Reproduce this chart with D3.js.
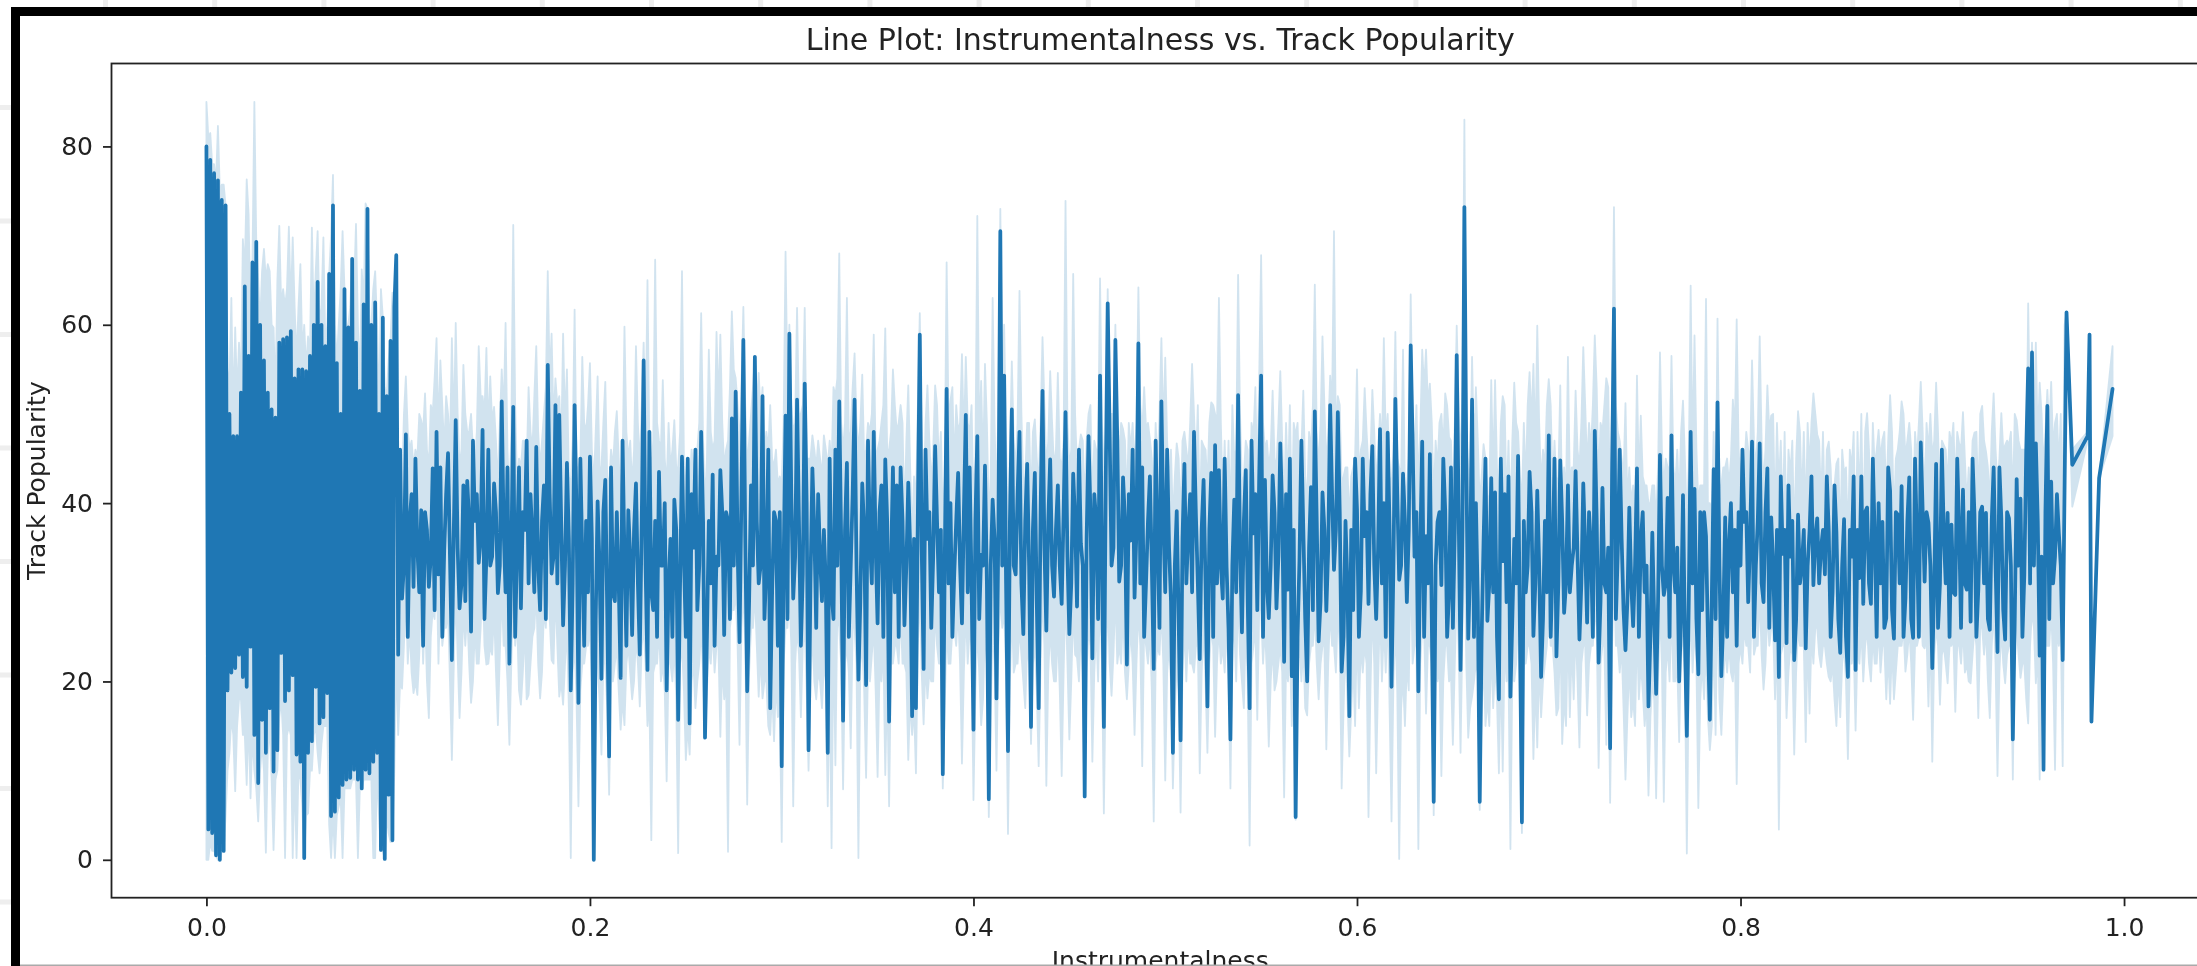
<!DOCTYPE html>
<html lang="en">
<head>
    <meta charset="utf-8" />
    <title>Line Plot: Instrumentalness vs. Track Popularity</title>
    <script src="https://d3js.org/d3.v7.min.js"></script>
    <style>
        html, body { margin: 0; padding: 0; background: #fff; overflow: hidden; }
        svg { display: block; filter: blur(0.55px); }
        text { font-family: "DejaVu Sans", sans-serif; fill: #222; }
    </style>
</head>
<body>
<script>
    // x values (dense part first, then the sparser part, then the tail)
    var instrumentalness = [
        0.000,0.001,0.002,0.003,0.004,0.005,0.006,0.007,0.008,0.009,
        0.010,0.011,0.012,0.013,0.014,0.015,0.016,0.017,0.018,0.019,
        0.020,0.021,0.022,0.023,0.024,0.025,0.026,0.027,0.028,0.029,
        0.030,0.031,0.032,0.033,0.034,0.035,0.036,0.037,0.038,0.039,
        0.040,0.041,0.042,0.043,0.044,0.045,0.046,0.047,0.048,0.049,
        0.050,0.051,0.052,0.053,0.054,0.055,0.056,0.057,0.058,0.059,
        0.060,0.061,0.062,0.063,0.064,0.065,0.066,0.067,0.068,0.069,
        0.070,0.071,0.072,0.073,0.074,0.075,0.076,0.077,0.078,0.079,
        0.080,0.081,0.082,0.083,0.084,0.085,0.086,0.087,0.088,0.089,
        0.090,0.091,0.092,0.093,0.094,0.095,0.096,0.097,0.098,0.099,
        0.100,0.102,0.104,0.106,0.108,0.110,0.112,0.114,0.116,0.118,
        0.120,0.122,0.124,0.126,0.128,0.130,0.132,0.134,0.136,0.138,
        0.140,0.142,0.144,0.146,0.148,0.150,0.152,0.154,0.156,0.158,
        0.160,0.162,0.164,0.166,0.168,0.170,0.172,0.174,0.176,0.178,
        0.180,0.182,0.184,0.186,0.188,0.190,0.192,0.194,0.196,0.198,
        0.200,0.202,0.204,0.206,0.208,0.210,0.212,0.214,0.216,0.218,
        0.220,0.222,0.224,0.226,0.228,0.230,0.232,0.234,0.236,0.238,
        0.240,0.242,0.244,0.246,0.248,0.250,0.252,0.254,0.256,0.258,
        0.260,0.262,0.264,0.266,0.268,0.270,0.272,0.274,0.276,0.278,
        0.280,0.282,0.284,0.286,0.288,0.290,0.292,0.294,0.296,0.298,
        0.300,0.302,0.304,0.306,0.308,0.310,0.312,0.314,0.316,0.318,
        0.320,0.322,0.324,0.326,0.328,0.330,0.332,0.334,0.336,0.338,
        0.340,0.342,0.344,0.346,0.348,0.350,0.352,0.354,0.356,0.358,
        0.360,0.362,0.364,0.366,0.368,0.370,0.372,0.374,0.376,0.378,
        0.380,0.382,0.384,0.386,0.388,0.390,0.392,0.394,0.396,0.398,
        0.400,0.402,0.404,0.406,0.408,0.410,0.412,0.414,0.416,0.418,
        0.420,0.422,0.424,0.426,0.428,0.430,0.432,0.434,0.436,0.438,
        0.440,0.442,0.444,0.446,0.448,0.450,0.452,0.454,0.456,0.458,
        0.460,0.462,0.464,0.466,0.468,0.470,0.472,0.474,0.476,0.478,
        0.480,0.482,0.484,0.486,0.488,0.490,0.492,0.494,0.496,0.498,
        0.500,0.502,0.504,0.506,0.508,0.510,0.512,0.514,0.516,0.518,
        0.520,0.522,0.524,0.526,0.528,0.530,0.532,0.534,0.536,0.538,
        0.540,0.542,0.544,0.546,0.548,0.550,0.552,0.554,0.556,0.558,
        0.560,0.562,0.564,0.566,0.568,0.570,0.572,0.574,0.576,0.578,
        0.580,0.582,0.584,0.586,0.588,0.590,0.592,0.594,0.596,0.598,
        0.600,0.602,0.604,0.606,0.608,0.610,0.612,0.614,0.616,0.618,
        0.620,0.622,0.624,0.626,0.628,0.630,0.632,0.634,0.636,0.638,
        0.640,0.642,0.644,0.646,0.648,0.650,0.652,0.654,0.656,0.658,
        0.660,0.662,0.664,0.666,0.668,0.670,0.672,0.674,0.676,0.678,
        0.680,0.682,0.684,0.686,0.688,0.690,0.692,0.694,0.696,0.698,
        0.700,0.702,0.704,0.706,0.708,0.710,0.712,0.714,0.716,0.718,
        0.720,0.722,0.724,0.726,0.728,0.730,0.732,0.734,0.736,0.738,
        0.740,0.742,0.744,0.746,0.748,0.750,0.752,0.754,0.756,0.758,
        0.760,0.762,0.764,0.766,0.768,0.770,0.772,0.774,0.776,0.778,
        0.780,0.782,0.784,0.786,0.788,0.790,0.792,0.794,0.796,0.798,
        0.800,0.802,0.804,0.806,0.808,0.810,0.812,0.814,0.816,0.818,
        0.820,0.822,0.824,0.826,0.828,0.830,0.832,0.834,0.836,0.838,
        0.840,0.842,0.844,0.846,0.848,0.850,0.852,0.854,0.856,0.858,
        0.860,0.862,0.864,0.866,0.868,0.870,0.872,0.874,0.876,0.878,
        0.880,0.882,0.884,0.886,0.888,0.890,0.892,0.894,0.896,0.898,
        0.900,0.902,0.904,0.906,0.908,0.910,0.912,0.914,0.916,0.918,
        0.920,0.922,0.924,0.926,0.928,0.930,0.932,0.934,0.936,0.938,
        0.940,0.942,0.944,0.946,0.948,0.950,0.952,0.954,0.956,0.958,
        0.960,0.962,0.964,0.966,0.968,0.970,
        0.973,0.981,0.982,0.983,0.987,0.994
    ];

    // mean popularity at each x
    var trackPopularity = [
        80,3.4,78.5,3,77,.5,76.2,0,74,1,
        73.4,19,50,21,47.5,21.5,47.5,23,52.4,20.5,
        64.3,19.4,56.5,23.9,67,14,69.3,8.6,60,15.7,
        56,12,52.4,17,50.5,9.9,49.6,12.3,58,23.2,
        58.4,17.8,58.6,19,59.3,20.7,54,11.8,55,11,
        55,.2,54.8,12,56.5,13.3,60,19.4,64.8,15.3,
        60,16,57.6,18.7,65.7,4.9,73.4,5.4,55.7,7,
        50,8.4,64,9,59.7,9.2,67.4,10.1,58,9,
        52.6,8,62.3,10.1,73,9.7,60,11,62.5,12,
        50,1.1,60.8,.1,52,7.3,58.2,2.2,62,67.8,
        23,29.3,47.7,38,30.6,35,39.2,39,30.6,43.9,
        48,44,34.7,45.6,22.4,49.3,28.2,42,42.5,25.6,
        38,33.3,48.2,34,33,42.2,29.9,51.4,30,22,
        50.8,35,28.2,37,31,36,46.3,28,42,55.5,
        32.1,51,49.9,26.3,44.5,19,51,17.6,34,38,
        45.2,0,40.2,20.3,42.6,11.6,30,39,20.4,34,
        39.2,25.2,42.2,23,56,21.3,30,38,43.5,33,
        19,36,40.4,15.7,45.2,25,15.3,35,28,48,
        13.7,38,43.2,34,43.7,25.2,38,49.5,52.5,24.4,
        58.3,18.9,42,56.4,31,52,33,17,39,24,
        10.5,49.8,59,29.3,51.6,24,53.4,12.3,43.9,26,
        34,37,12,30,46,51.4,15.6,44.5,33,51.6,
        20.2,42.2,19.6,36,48,26.5,42,44.9,15.5,44,
        42,44,26.3,42.3,16.1,17,58.9,21.4,36,26,
        46.4,30,9.6,52.8,40,32.2,43.4,26.5,49.9,44,
        14.6,47.5,34.2,44.2,6.8,40.4,18.1,70.5,54.3,12.2,
        50.5,32,48,25.3,44.4,14.9,43.4,17,52.6,25.7,
        44.9,29.5,42,28.7,50.2,25.3,43.3,28.4,35.5,7.1,
        47.5,22.6,38,54.3,14.9,62.4,33,58.3,31.2,42.9,
        21.9,35.8,29.4,57.9,44,31.2,43,21.4,36,51.4,
        30,35,12,39.1,13.4,44.4,36.6,30,38.6,22.5,
        42.6,17.2,43.4,46.5,43.7,29.3,32.8,13.5,40.4,52.1,
        25.5,43.7,17,36.6,28,54.3,42.6,27.1,43.1,28.2,
        46.7,22.2,30.3,20.6,4.8,33.6,37.1,20,41.8,50.3,
        24.5,41.2,27.9,51,32.5,50.2,21.1,38,16.1,28,
        39.3,30.1,36.3,28.7,46.4,27,48.3,40,47.9,19.4,
        51.7,31.4,43.3,28.9,57.7,34,18.9,46.9,36.3,45.5,
        6.5,37.9,30.8,39.2,30,26,56.6,21.3,73.2,24.8,
        51.6,40,6.5,35.7,26.8,42.8,41.2,18,33.5,28.9,
        18.3,36,45.3,4.2,30,43.5,25.1,41.4,20.5,38,
        47.6,33,22.8,44.8,27.7,42,33,43.6,24.7,42.2,
        26.6,35,48.1,22.1,41.7,30,12.5,61.8,34.6,36,
        23.5,39.5,26.2,43.9,35.8,30,17.2,36.7,18.6,45.4,
        29.7,40.6,47.6,30,20,40.9,13.9,48,41.6,20.8,
        28,36.3,15.7,43.8,51.3,20.6,38.4,35.2,30,24,
        33,37.9,28.9,46.9,33,46.7,28.9,43.9,38.4,24.6,
        20.5,34.3,24.3,34,22.4,38.7,33,23.7,36.9,30.8,
        38.3,35,32,36.9,30,36.8,23.2,38.2,20.5,34,
        21.3,31.6,28.7,39.5,28.7,36,40,37.9,27.1,41.4,
        24.8,38.7,41.9,29.3,42.9,24.9,35.9,46.8,31.2,37.8,
        21.5,44.4,31,36.6,38.9,37.6,29.7,37.2,41.5,30.3,
        26.7,38.7,30.3,39.6,38.9,25.8,44,23.3,38.3,24.7,
        38.3,13.5,42.7,40.5,32,55.1,56.9,46.7,22.9,10.1,
        50.9,42.4,34,36.6,22.4,61.4,
        44.3,47.5,58.9,15.5,42.8,52.8
    ];

    // lower edge of the confidence band
    var ciLower = [
        0,0,2,1,1,.5,0,0,1,1,
        5,10,12,16,14,7.7,15,18,18,14,
        14,8.4,16,6.9,14,10,8,4.3,10,13,
        10,.8,12,15,9,1.1,9,10,16,18,
        14,.2,14,15,14,.2,10,.2,10,9,
        6,.2,5,5.2,10,10,14,15,12,9.7,
        13,15,15,15,4,.2,5,.2,5,6,
        7,.2,8,8,8,8,9,9,9,.2,
        8,8,9,9,9,9,9,.2,.2,10,
        5,1,1,.1,5,3,2,2,10,23,
        14,19.2,30,26,18.7,18.5,30,28,15.9,28,
        34,30,26,28,11.2,30,15.9,28,28,17.6,
        26,22,32,21.9,24,28,15.1,30,24,12.9,
        30,27,17.4,26,18.5,25,30,18.1,28,32,
        22.4,30,18.3,17.4,26,.2,24,6,22,24,
        26,0,22,11.8,22,7.3,20,24,14.6,15.1,
        24,18,25,17.2,26,15,2.2,22,26,22,
        8.8,22,24,.75,24,11.2,11.8,22,20,26,
        13.7,24,26,24,13.8,18,.9,28,30,12.9,
        30,6.2,26,30,18.3,18.1,20,14,13.3,16,
        2,26,30,6,26,16,26,10,26,18,
        20,22,6,1.3,10.6,26,7.9,24,12.5,26,
        .2,24,9.2,20,26,9.3,20,9.5,6,22,
        24,28,22,11.2,14,9.7,30,15.2,18.1,20,
        28,22,8,26,22,26,28,10.8,28,26,
        6.7,26,15.1,26,4.8,26,10,30,28,2.9,
        28,22,26,20,24,13,24,10.5,30,8.3,
        26,20,26,9.4,30,13.5,28,22.7,26,7,
        26,11,26,30,5.2,30,18.4,30,24,28,
        18,26,14,28,10.5,24,26,4.3,24,28,
        8.9,24,8,22,5.3,26,26,22,24,9.7,
        26,12,26,13.8,26,24,26,8,26,30,
        20,26,1.6,24,15.7,28,26,12.7,24,20,
        24,7,20,15,4.5,24,24,16.2,24,28,
        18,24,12.4,28,24,28,8,24,11.6,22,
        26,24,24,4.8,28,9.7,28,26,28,4.3,
        26,.1,20.5,22,34,24,1.2,26,16.4,24,
        5,20,9.4,24,20,12.9,30,12,36,13.7,
        18.3,22,5.6,22,18,24,22,9.7,9.9,20,
        1.2,20,28,3,22,24,11.3,12.6,16,22,
        28,24,16.2,26,18,26,24,26,12.6,24,
        16.2,24,28,10.3,24,12.9,6.4,32,24,24,
        9,22,18,26,22,15,7.2,20,6.9,28,
        6.5,24,28,20,13.2,24,.7,28,26,5.8,
        22,24,12.3,26,30,14,24,24,20,8.5,
        24,26,24,30,24,30,19.1,28,26,18,
        3.4,24,15.9,24,11.8,26,24,13.2,16.4,22,
        26,21.6,24,20.5,22,15,16,24,11.3,22,
        14.5,22,20,26,20,22,26,24,18,17.5,
        18,24,24,21.1,26,15.7,24,28,23.7,17.2,
        11,26,17.4,24,19.8,24,16.6,24,26,22,
        19.8,26,15.9,26,26,15.9,28,9.4,26,19.8,
        24,9,26,20.4,22,15.3,28,19.8,9,10,
        24,28,10.1,24,10.5,61.4,
        39.6,47,58.9,15.5,42.8,47.5
    ];

    // upper edge of the confidence band
    var ciUpper = [
        85,81,81.5,78,78,76,82.3,75,75.7,75.7,
        73.4,55,53,63,50,59.7,52,58,53,69.6,
        66,76.3,72.4,60,67,85,69.3,65,60,66,
        68.5,65,66.8,66,60,59.7,52,65,71.1,62,
        64,62,64,71,62,69.8,62,56,62,66.8,
        57,60,55,58.7,57,70.9,60,66,70.5,60,
        62,69.8,58,60,65.7,70,76.8,60,56,60,
        64,70.5,64,60,60,62,67.4,64,71.3,60,
        53,66.2,62.3,73.6,73,60,60,64,66,60,
        50,64,60.8,53,52,56,58.2,63.6,62,67.8,
        36,42,54.2,46,44,45,49.3,52.3,44,50,
        58.5,56,46,50,58.5,60.2,44,55.5,48,50,
        44,57.6,52,57.4,54.2,50.8,42,55,60.2,40,
        71.2,42,44,47,53,46,57.6,44,50,66,
        59,54,52,59,55,42,61.7,44,56.4,48,
        55.7,42,54.2,44,53.6,42,44,50.3,40,59.8,
        45,42,57.6,44,58,65,44,67.3,47,53.8,
        42,44,49.3,44,66,42,42,44,46,61.3,
        40,57.2,46,59.2,58.9,44,47,61.5,54,46,
        62,44,50,56.4,54.6,53,48,51,44,42,
        42,68.2,60,48,61.9,50,61.9,45,47.6,44,
        45,47.6,44,44,52,68,46,63,48,56.8,
        46,54.4,46,48,58.9,46,49,59.6,46,55,
        48,51,38,53.2,36,40,61.3,40,53.2,42,
        53.2,44,38,67,51.5,44,48,56.7,56.4,48,
        40,72.2,53.7,55.6,38,63,40,73,60,36,
        55.9,44,63.8,42,49,40,49.4,42,58.6,44,
        54.8,44,54.6,44,73.9,44,65.7,44,47.7,40,
        50,40,46,65.2,44,64,50,60,46,48.3,
        40,46,44,64.2,48,48.3,47.2,40,44,58.5,
        56.3,42,38,46.7,38,48,44,55.6,44,38,
        46.4,42,51.3,50,63,40,39,38,45,65.6,
        42,47,38,47.5,42,67.8,46,44,52.6,44,
        54.8,40,42,38,47.5,42,52.6,40,46,64.5,
        44,58.7,44,54.3,70.5,52,42,44,38,44,
        55,46,52.9,44,52.7,42,50,58.5,50,42,
        59.2,44,57.2,42,63.4,46,42,57.2,57.2,53.4,
        40,44,50,52.3,47.4,40,59.9,44,83,44,
        56.4,53,40,46.6,40,53.8,53.8,40,52,39.8,
        38,53.5,48,40,42,54.7,55.6,59.9,42,44,
        53.9,42,42,53.2,44,56.4,44,52.6,44,57.5,
        44,46,58.8,42,48,54,38,73.2,48,45,
        51.2,44,42,54.3,49.8,42,40,42,38,56.9,
        42,44,56.5,42,40,51.5,38,64.4,58.8,40,
        42,62.9,40,48,60.7,42,44,42,51.6,60.6,
        42,44,46,56,44,58.7,42,53.2,49.8,38,
        42,38,36,43.3,36,50.3,40,38,44,52.3,
        47.7,40,38,46.9,38,44.4,36,43.4,36,43.9,
        34,40.3,36,50.1,38,44,48.2,47.1,40,52.1,
        38,46,51.4,45.2,49,38,44.9,53.6,40,45.8,
        45.2,53.5,40,46.5,42,46.5,41.9,46.7,50.2,40,
        40,47.9,40,50.9,45.8,40,52.3,42,50.1,46.5,
        46.5,40,49.3,46,46,62.4,58,58,53.5,44,
        52.7,53.6,49,44.1,38,61.4,
        46,48,58.9,15.5,42.8,57.6
    ];

    // in-between x values of the sparser part, where the line sits inside the dark body
    var bodyInstrumentalness = [
        0.101,0.103,0.105,0.107,0.109,0.111,0.113,0.115,0.117,0.119,
        0.121,0.123,0.125,0.127,0.129,0.131,0.133,0.135,0.137,0.139,
        0.141,0.143,0.145,0.147,0.149,0.151,0.153,0.155,0.157,0.159,
        0.161,0.163,0.165,0.167,0.169,0.171,0.173,0.175,0.177,0.179,
        0.181,0.183,0.185,0.187,0.189,0.191,0.193,0.195,0.197,0.199,
        0.201,0.203,0.205,0.207,0.209,0.211,0.213,0.215,0.217,0.219,
        0.221,0.223,0.225,0.227,0.229,0.231,0.233,0.235,0.237,0.239,
        0.241,0.243,0.245,0.247,0.249,0.251,0.253,0.255,0.257,0.259,
        0.261,0.263,0.265,0.267,0.269,0.271,0.273,0.275,0.277,0.279,
        0.281,0.283,0.285,0.287,0.289,0.291,0.293,0.295,0.297,0.299,
        0.301,0.303,0.305,0.307,0.309,0.311,0.313,0.315,0.317,0.319,
        0.321,0.323,0.325,0.327,0.329,0.331,0.333,0.335,0.337,0.339,
        0.341,0.343,0.345,0.347,0.349,0.351,0.353,0.355,0.357,0.359,
        0.361,0.363,0.365,0.367,0.369,0.371,0.373,0.375,0.377,0.379,
        0.381,0.383,0.385,0.387,0.389,0.391,0.393,0.395,0.397,0.399,
        0.401,0.403,0.405,0.407,0.409,0.411,0.413,0.415,0.417,0.419,
        0.421,0.423,0.425,0.427,0.429,0.431,0.433,0.435,0.437,0.439,
        0.441,0.443,0.445,0.447,0.449,0.451,0.453,0.455,0.457,0.459,
        0.461,0.463,0.465,0.467,0.469,0.471,0.473,0.475,0.477,0.479,
        0.481,0.483,0.485,0.487,0.489,0.491,0.493,0.495,0.497,0.499,
        0.501,0.503,0.505,0.507,0.509,0.511,0.513,0.515,0.517,0.519,
        0.521,0.523,0.525,0.527,0.529,0.531,0.533,0.535,0.537,0.539,
        0.541,0.543,0.545,0.547,0.549,0.551,0.553,0.555,0.557,0.559,
        0.561,0.563,0.565,0.567,0.569,0.571,0.573,0.575,0.577,0.579,
        0.581,0.583,0.585,0.587,0.589,0.591,0.593,0.595,0.597,0.599,
        0.601,0.603,0.605,0.607,0.609,0.611,0.613,0.615,0.617,0.619,
        0.621,0.623,0.625,0.627,0.629,0.631,0.633,0.635,0.637,0.639,
        0.641,0.643,0.645,0.647,0.649,0.651,0.653,0.655,0.657,0.659,
        0.661,0.663,0.665,0.667,0.669,0.671,0.673,0.675,0.677,0.679,
        0.681,0.683,0.685,0.687,0.689,0.691,0.693,0.695,0.697,0.699,
        0.701,0.703,0.705,0.707,0.709,0.711,0.713,0.715,0.717,0.719,
        0.721,0.723,0.725,0.727,0.729,0.731,0.733,0.735,0.737,0.739,
        0.741,0.743,0.745,0.747,0.749,0.751,0.753,0.755,0.757,0.759,
        0.761,0.763,0.765,0.767,0.769,0.771,0.773,0.775,0.777,0.779,
        0.781,0.783,0.785,0.787,0.789,0.791,0.793,0.795,0.797,0.799,
        0.801,0.803,0.805,0.807,0.809,0.811,0.813,0.815,0.817,0.819,
        0.821,0.823,0.825,0.827,0.829,0.831,0.833,0.835,0.837,0.839,
        0.841,0.843,0.845,0.847,0.849,0.851,0.853,0.855,0.857,0.859,
        0.861,0.863,0.865,0.867,0.869,0.871,0.873,0.875,0.877,0.879,
        0.881,0.883,0.885,0.887,0.889,0.891,0.893,0.895,0.897,0.899,
        0.901,0.903,0.905,0.907,0.909,0.911,0.913,0.915,0.917,0.919,
        0.921,0.923,0.925,0.927,0.929,0.931,0.933,0.935,0.937,0.939,
        0.941,0.943,0.945,0.947,0.949,0.951,0.953,0.955,0.957,0.959,
        0.961,0.963,0.965,0.967,0.969
    ];

    var bodyPopularity = [
        46,33,25,41,45,30,24,37,34,28,
        32,25,41,34,37,35,31,29,38,47,
        41,36,27,46,34,39,33,37,44,34,
        25,44,39,47,41,30,33,38,27,41,
        34,31,38,33,36,31,39,45,24,30,
        36,27,33,39,28,44,29,31,47,24,
        34,37,31,38,33,48,28,25,33,40,
        31,25,37,31,34,45,41,46,33,38,
        25,31,24,33,39,39,27,33,35,41,
        36,29,33,38,33,27,46,30,38,39,
        33,27,41,34,38,32,40,31,37,41,
        29,31,45,27,33,36,37,25,41,33,
        29,37,47,31,35,39,25,38,33,30,
        25,38,33,35,36,39,35,46,39,34,
        38,37,33,31,25,38,33,39,30,31,
        38,27,33,31,33,36,37,33,31,38,
        33,41,31,38,33,37,29,39,35,38,
        33,37,33,39,34,31,38,46,33,36,
        39,41,27,34,43,48,35,47,33,38,
        41,46,37,31,25,38,33,47,26,38,
        46,29,33,27,36,31,41,48,31,37,
        31,37,25,31,33,45,26,33,30,35,
        38,29,47,41,43,25,31,33,39,34,
        39,41,45,37,25,47,27,35,28,38,
        29,37,35,41,37,39,25,31,37,45,
        25,45,39,41,33,35,31,25,37,33,
        41,33,38,37,47,39,35,25,31,27,
        33,39,45,25,44,37,39,37,45,33,
        25,29,25,45,31,30,25,45,41,43,
        27,31,25,38,33,39,31,33,27,30,
        25,45,31,38,31,30,35,34,31,35,
        39,25,38,29,31,35,43,27,46,28,
        29,31,33,25,39,33,25,27,29,33,
        31,25,33,35,27,25,29,31,27,39,
        39,25,29,27,33,27,25,40,37,39,
        46,39,36,25,38,31,39,26,33,37,
        43,37,42,38,27,31,37,33,43,36,
        31,37,43,25,42,27,33,25,37,43,
        37,43,39,31,45,25,31,26,44,28,
        39,31,25,38,27,45,25,39,39,33,
        31,26,46,31,25,30,45,26,31,39,
        45,25,39,31,27,38,33,44,28,39,
        33,27,33,25,46,31,33,38,34,39,
        27,31,41,33,42
    ];

    var bodyLower = [
        20,24,22,21,20,23,22,20,25,27,
        22,24,26,20,22,23,21,24,22,20,
        22,26,24,22,23,21,23,24,20,22,
        24,19,21,18,22,26,22,21,26,27,
        22,24,20,22,17,21,18,19,22,24,
        20,22,18,22,17,20,22,19,18,22,
        21,20,22,24,22,18,21,22,20,19,
        22,20,18,22,19,15,20,17,22,21,
        19,22,21,24,22,20,26,28,24,26,
        24,21,26,24,23,20,15,19,20,17,
        22,26,24,22,23,24,19,19,20,21,
        17,20,21,26,28,22,22,21,26,22,
        22,19,22,23,19,21,24,20,22,24,
        22,22,21,18,17,24,21,22,21,20,
        24,22,17,22,26,24,22,21,22,24,
        19,21,18,22,17,22,24,26,21,20,
        21,22,23,17,22,22,19,22,24,21,
        22,20,19,21,22,20,23,20,21,21,
        24,21,20,22,21,22,23,22,22,21,
        22,22,22,24,26,22,19,22,23,22,
        21,20,17,19,21,20,22,21,24,21,
        20,22,24,22,22,21,21,24,20,23,
        17,20,22,26,28,22,21,20,19,22,
        21,22,24,22,22,20,17,22,24,22,
        22,24,22,24,21,24,17,18,17,15,
        17,21,22,19,22,20,20,21,17,20,
        19,17,15,19,22,24,22,26,24,22,
        21,22,20,24,21,22,24,26,22,17,
        20,21,17,15,15,17,18,22,24,21,
        21,22,17,22,24,22,20,22,20,24,
        24,21,17,13,15,16,18,20,22,24,
        22,24,26,22,24,26,24,24,21,17,
        16,16,15,18,19,18,16,18,20,22,
        21,20,20,22,24,21,20,21,22,18,
        18,16,15,14,18,20,21,21,24,22,
        22,24,21,23,24,23,22,24,26,25,
        23,24,21,23,21,24,24,25,25,26,
        23,24,22,20,18,21,22,20,22,24,
        24,26,24,22,25,22,21,24,23,24,
        21,24,26,23,22,24,25,24,25,26,
        23,24,23,22,24,25,24,22,21,20,
        23,24,26,23,20,24,22,21,22,23,
        24,26,23,22,18,24,26,23,26,24,
        24,22,26,26,40
    ];

    var bodyUpper = [
        46,50,48,47,46,50,48,46,51,54,
        48,51,52,46,48,50,46,50,48,46,
        48,52,50,48,49,47,49,50,46,48,
        51,45,47,44,48,52,48,47,53,54,
        49,51,46,49,43,47,44,45,49,51,
        46,48,44,49,43,46,48,45,44,48,
        47,46,49,51,48,46,47,49,46,45,
        49,46,44,48,45,41,46,43,49,47,
        45,48,47,51,49,46,53,55,51,53,
        51,47,53,51,50,46,46,45,46,43,
        49,53,51,49,50,51,45,45,46,47,
        43,46,47,53,54,49,49,47,53,49,
        49,45,49,50,45,47,51,46,48,51,
        49,49,47,44,43,51,47,49,47,46,
        51,48,43,49,53,51,49,47,49,51,
        45,47,44,49,43,49,51,53,47,46,
        47,49,50,43,49,48,45,49,51,47,
        49,46,45,47,49,46,50,46,47,47,
        51,47,46,49,47,50,50,48,49,47,
        49,49,49,51,53,49,45,49,50,48,
        47,46,43,45,47,46,49,50,51,47,
        46,49,51,49,49,47,47,51,46,50,
        43,46,49,53,54,49,47,46,45,49,
        47,49,51,49,49,46,43,48,51,48,
        49,51,48,51,47,51,43,44,43,45,
        43,47,48,45,48,46,46,47,43,46,
        45,43,41,45,49,51,48,53,51,49,
        47,49,46,51,47,49,51,53,48,43,
        46,47,43,45,41,43,44,49,51,47,
        47,49,43,49,51,49,46,49,46,51,
        51,47,43,39,41,42,44,46,49,51,
        49,51,53,49,51,53,51,51,47,43,
        40,40,39,42,43,42,40,42,44,46,
        45,44,44,46,48,45,44,45,46,42,
        42,40,39,38,42,44,45,45,48,46,
        46,48,45,47,48,47,46,48,50,49,
        47,48,46,47,45,48,48,49,49,50,
        47,48,46,44,42,45,46,44,46,48,
        48,50,48,46,49,46,45,48,47,48,
        45,48,50,47,46,48,49,48,49,50,
        47,48,47,46,48,49,48,46,45,44,
        47,48,50,47,44,48,46,45,46,47,
        48,50,47,46,42,48,50,47,50,48,
        48,46,50,50,60
    ];

    var yTickValues = [0, 20, 40, 60, 80];
    var xTickValues = [0.0, 0.2, 0.4, 0.6, 0.8, 1.0];
    var titleText = "Line Plot: Instrumentalness vs. Track Popularity";
    var xLabelText = "Instrumentalness";
    var yLabelText = "Track Popularity";

    var w = 2197;
    var h = 966;
    var blue = "#1f77b4";
    var axisColor = "#222";

    // axes box, the right side runs off the screenshot
    var plotLeft = 111.5, plotRight = 2209, plotTop = 63.5, plotBottom = 897.7;

    var xScale = d3.scaleLinear()
        .domain([-0.0495, 1.0443])
        .range([plotLeft, plotRight]);

    var yScale = d3.scaleLinear()
        .domain([-4.25, 89.3])
        .range([plotBottom, plotTop]);

    var points = instrumentalness.map(function(x, i) {
        return { x: x, y: trackPopularity[i], lo: ciLower[i], hi: ciUpper[i] };
    }).concat(bodyInstrumentalness.map(function(x, i) {
        return { x: x, y: bodyPopularity[i], lo: bodyLower[i], hi: bodyUpper[i] };
    }));

    points.sort(function(a, b) { return d3.ascending(a.x, b.x); });

    var svg = d3.select("body")
        .append("svg")
        .attr("width", w)
        .attr("height", h);

    svg.append("rect").attr("width", w).attr("height", h).attr("fill", "#fff");

    // faint marks of the page behind the screenshot frame
    svg.selectAll(".markTop")
        .data(d3.range(105, w, 109.2))
        .enter().append("rect")
        .attr("x", function(d) { return d - 2; })
        .attr("y", 0).attr("width", 5).attr("height", 7)
        .attr("fill", "#eeeeee");
    svg.selectAll(".markLeft")
        .data(d3.range(107, h, 113.5))
        .enter().append("rect")
        .attr("x", 0).attr("y", function(d) { return d - 2; })
        .attr("width", 11).attr("height", 5)
        .attr("fill", "#eeeeee");

    // confidence band, group opacity so the stroke does not darken the fill
    var band = d3.area()
        .x(function(d) { return xScale(d.x); })
        .y0(function(d) { return yScale(d.lo); })
        .y1(function(d) { return yScale(d.hi); });

    svg.append("g")
        .attr("opacity", 0.2)
        .append("path")
        .datum(points)
        .attr("d", band)
        .attr("fill", blue)
        .attr("stroke", blue)
        .attr("stroke-width", 1.8)
        .attr("stroke-linejoin", "round");

    // mean line
    var line = d3.line()
        .x(function(d) { return xScale(d.x); })
        .y(function(d) { return yScale(d.y); });

    svg.append("path")
        .datum(points)
        .attr("d", line)
        .attr("fill", "none")
        .attr("stroke", blue)
        .attr("stroke-width", 3.75)
        .attr("stroke-linejoin", "round")
        .attr("stroke-linecap", "round");

    // axes
    var xAxis = d3.axisBottom(xScale)
        .tickValues(xTickValues)
        .tickFormat(d3.format(".1f"))
        .tickSize(8.5)
        .tickPadding(12);

    var yAxis = d3.axisLeft(yScale)
        .tickValues(yTickValues)
        .tickSize(8.5)
        .tickPadding(10);

    var gx = svg.append("g").attr("transform", "translate(0," + plotBottom + ")").call(xAxis);
    var gy = svg.append("g").attr("transform", "translate(" + plotLeft + ",0)").call(yAxis);

    [gx, gy].forEach(function(g) {
        g.select(".domain").remove();
        g.selectAll("line").attr("stroke", axisColor).attr("stroke-width", 1.8);
        g.selectAll("text")
            .attr("font-size", "25px")
            .attr("font-family", "DejaVu Sans")
            .attr("fill", "#222");
    });

    // spines
    svg.append("rect")
        .attr("x", plotLeft)
        .attr("y", plotTop)
        .attr("width", plotRight - plotLeft)
        .attr("height", plotBottom - plotTop)
        .attr("fill", "none")
        .attr("stroke", axisColor)
        .attr("stroke-width", 1.8);

    // title and axis labels
    svg.append("text")
        .text(titleText)
        .attr("x", (plotLeft + plotRight) / 2)
        .attr("y", 50)
        .attr("font-size", "30px")
        .attr("text-anchor", "middle");

    svg.append("text")
        .text(xLabelText)
        .attr("x", (plotLeft + plotRight) / 2)
        .attr("y", 969)
        .attr("font-size", "25px")
        .attr("text-anchor", "middle");

    svg.append("text")
        .text(yLabelText)
        .attr("transform", "translate(45," + ((plotTop + plotBottom) / 2) + ") rotate(-90)")
        .attr("font-size", "25px")
        .attr("text-anchor", "middle");

    // screenshot frame
    svg.append("rect").attr("x", 11).attr("y", 7).attr("width", 9).attr("height", h - 7).attr("fill", "#000");
    svg.append("rect").attr("x", 11).attr("y", 7).attr("width", w - 11).attr("height", 9).attr("fill", "#000");
    svg.append("rect").attr("x", 20).attr("y", 964.5).attr("width", w - 20).attr("height", 1.5).attr("fill", "#aaaaaa");
</script>
</body>
</html>
